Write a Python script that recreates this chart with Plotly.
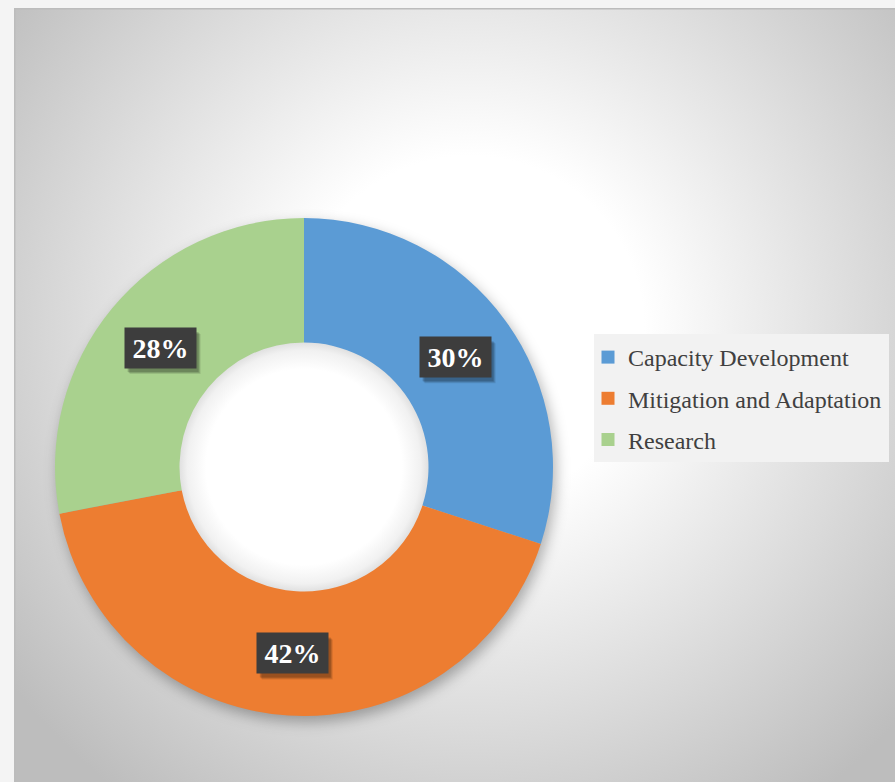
import base64
import math
import plotly.graph_objects as go

# ---------------- data ----------------
categories = ["Capacity Development", "Mitigation and Adaptation", "Research"]
values = [30, 42, 28]
colors = ["#5B9BD5", "#ED7D31", "#A9D18E"]

# ---------------- geometry / style ----------------
W, H = 895, 782
CHART_X0, CHART_Y0 = 14, 8            # chart-area top-left (px)
CX, CY, R = 304, 467, 249             # donut centre & outer radius (px)
HOLE = 0.5
SERIF = "Times New Roman, Liberation Serif, serif"
BOX_W, BOX_H = 71, 40                 # data-label box size (px)

dom_x = [(CX - R) / W, (CX + R) / W]
dom_y = [1 - (CY + R) / H, 1 - (CY - R) / H]

# ---------------- background (radial gradient + donut shadow) ----------------
cw, ch = W - CHART_X0, H - CHART_Y0
gx, gy = 470 - CHART_X0, 330 - CHART_Y0
ring_r = R * (1 + HOLE) / 2
ring_w = R * (1 - HOLE)
hx, hy, hr = CX - CHART_X0, CY - CHART_Y0, R * HOLE
svg = f"""<svg xmlns='http://www.w3.org/2000/svg' width='{cw}' height='{ch}' viewBox='0 0 {cw} {ch}'>
<defs>
<radialGradient id='g' gradientUnits='userSpaceOnUse' cx='{gx}' cy='{gy}' r='580'>
<stop offset='0' stop-color='#ffffff'/>
<stop offset='0.30' stop-color='#ffffff'/>
<stop offset='1' stop-color='#bdbdbd'/>
</radialGradient>
<radialGradient id='h' gradientUnits='userSpaceOnUse' cx='{hx}' cy='{hy}' r='{hr + 1}'>
<stop offset='0' stop-color='#ffffff'/>
<stop offset='0.78' stop-color='#ffffff'/>
<stop offset='0.93' stop-color='#f1f1f1'/>
<stop offset='1' stop-color='#dedede'/>
</radialGradient>
<filter id='b' x='-30%' y='-30%' width='160%' height='160%'><feGaussianBlur stdDeviation='7'/></filter>
</defs>
<rect x='0' y='0' width='{cw}' height='{ch}' fill='url(#g)'/>
<circle cx='{CX - CHART_X0 + 3}' cy='{CY - CHART_Y0 + 6}' r='{ring_r}' fill='none' stroke='#000' stroke-opacity='0.30' stroke-width='{ring_w}' filter='url(#b)'/>
<circle cx='{hx}' cy='{hy}' r='{hr + 1}' fill='url(#h)'/>
<rect x='0.75' y='0.75' width='{cw + 2}' height='{ch + 2}' fill='none' stroke='#bcbcbc' stroke-width='1.5'/>
</svg>"""
bg_uri = "data:image/svg+xml;base64," + base64.b64encode(svg.encode()).decode()

fig = go.Figure()

fig.add_trace(go.Pie(
    labels=categories, values=values, hole=HOLE, sort=False,
    direction="clockwise", rotation=0,
    marker=dict(colors=colors, line=dict(width=0)),
    textinfo="none", showlegend=False,
    domain=dict(x=dom_x, y=dom_y),
))

# legend entries
for cat, col in zip(categories, colors):
    fig.add_trace(go.Scatter(
        x=[None], y=[None], mode="markers", name=cat, legendgroup=cat,
        marker=dict(symbol="square", size=13, color=col),
        showlegend=True, hoverinfo="skip",
    ))

# data labels at mid-ring, derived from the values
total = sum(values)
annotations = []
shapes = [dict(type="rect", xref="paper", yref="paper",
               x0=594 / W, x1=889 / W, y0=1 - 462 / H, y1=1 - 334 / H,
               fillcolor="#f2f2f2", line=dict(width=0), layer="below")]
cum = 0
r_mid = R * (1 + HOLE) / 2
for v in values:
    mid = (cum + v / 2) / total * 2 * math.pi
    cum += v
    px = CX + r_mid * math.sin(mid)
    py = CY - r_mid * math.cos(mid)
    label = f"{round(v / total * 100)}%"
    # soft drop shadow of the label box
    for off, alpha in ((5, 0.10), (4, 0.14), (3, 0.16)):
        shapes.append(dict(type="rect", xref="paper", yref="paper", layer="above",
                           x0=(px - BOX_W / 2 + off) / W, x1=(px + BOX_W / 2 + off) / W,
                           y0=1 - (py + BOX_H / 2 + off + 1) / H,
                           y1=1 - (py - BOX_H / 2 + off + 1) / H,
                           fillcolor=f"rgba(0,0,0,{alpha})", line=dict(width=0)))
    annotations.append(dict(x=px / W, y=1 - py / H, xref="paper", yref="paper",
                            text=f"<b>{label}</b>", showarrow=False,
                            width=BOX_W - 4, height=BOX_H - 4, borderpad=2,
                            xanchor="center", yanchor="middle",
                            bgcolor="#3d3d3d",
                            font=dict(family=SERIF, size=28, color="#ffffff")))

fig.update_layout(
    width=W, height=H,
    margin=dict(l=0, r=0, t=0, b=0),
    paper_bgcolor="#f4f4f4",
    plot_bgcolor="rgba(0,0,0,0)",
    xaxis=dict(visible=False), yaxis=dict(visible=False),
    images=[dict(source=bg_uri, xref="paper", yref="paper",
                 x=CHART_X0 / W, y=1 - CHART_Y0 / H,
                 sizex=cw / W, sizey=ch / H, xanchor="left", yanchor="top",
                 sizing="stretch", layer="below")],
    shapes=shapes,
    legend=dict(x=588 / W, y=1 - 335 / H, xanchor="left", yanchor="top",
                bgcolor="rgba(0,0,0,0)", tracegroupgap=7,
                font=dict(family=SERIF, size=24, color="#404040")),
    annotations=annotations,
    hovermode=False,
)

fig.write_html("out.html",
               config={"displayModeBar": False},
               post_script="document.body.style.margin='0';"
                           "document.body.style.background='#f4f4f4';")
